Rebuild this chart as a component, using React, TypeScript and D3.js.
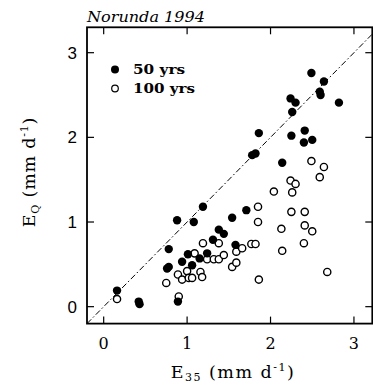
import React from "react";
import * as d3 from "d3";

const title = "Norunda 1994";
const xTicks = [0, 1, 2, 3];
const yTicks = [0, 1, 2, 3];
const legendLabels = ["50 yrs", "100 yrs"];

const x50 = [0.16, 0.42, 0.43, 0.89, 0.76, 0.78, 0.78, 0.88, 1.08, 1.19, 0.94, 1.01, 1.06, 1.15, 1.24, 1.31, 1.38, 1.44, 1.54, 1.58, 1.71, 1.78, 1.82, 1.86, 2.14, 2.25, 2.41, 2.40, 2.50, 2.26, 2.24, 2.30, 2.59, 2.60, 2.64, 2.49, 2.82];
const y50 = [0.19, 0.06, 0.03, 0.06, 0.45, 0.47, 0.68, 1.02, 1.00, 1.18, 0.53, 0.62, 0.49, 0.57, 0.63, 0.79, 0.91, 0.86, 1.05, 0.73, 1.14, 1.79, 1.81, 2.05, 1.70, 2.02, 2.08, 1.94, 1.97, 2.30, 2.46, 2.41, 2.54, 2.50, 2.66, 2.76, 2.41];

const x100 = [0.16, 0.90, 0.75, 0.89, 0.94, 1.00, 1.02, 1.06, 1.09, 1.16, 1.18, 1.19, 1.24, 1.32, 1.38, 1.38, 1.44, 1.54, 1.59, 1.59, 1.66, 1.77, 1.82, 1.85, 1.85, 1.86, 2.04, 2.13, 2.14, 2.24, 2.30, 2.26, 2.25, 2.41, 2.41, 2.50, 2.40, 2.49, 2.64, 2.59, 2.68];
const y100 = [0.09, 0.12, 0.28, 0.38, 0.32, 0.42, 0.34, 0.34, 0.63, 0.41, 0.35, 0.75, 0.56, 0.56, 0.75, 0.56, 0.61, 0.47, 0.52, 0.65, 0.69, 0.74, 0.74, 1.18, 1.00, 0.32, 1.36, 0.92, 0.66, 1.49, 1.45, 1.35, 1.12, 1.12, 0.96, 0.89, 0.75, 1.72, 1.65, 1.53, 0.41];

const W = 373;
const H = 385;
const L = 87, R = 372.3, T = 27.3, B = 323.6;

export default function App() {
  const x = d3.scaleLinear().domain([-0.2, 3.22]).range([L, R]);
  const y = d3.scaleLinear().domain([-0.2, 3.3]).range([B, T]);
  const tl = 7;
  const serif = "'DejaVu Serif', 'Liberation Serif', serif";
  const lineEnd = 3.22;
  return (
    <svg width={W} height={H} style={{ position: "absolute", left: 0, top: 0, background: "#fff" }}>
      <defs>
        <clipPath id="plotclip">
          <rect x={L} y={T} width={R - L} height={B - T} />
        </clipPath>
      </defs>
      <text x={L} y={22} fontFamily={serif} fontStyle="italic" fontSize={15} textLength={118} lengthAdjust="spacingAndGlyphs" fill="#000">{title}</text>
      <line x1={x(-0.2)} y1={y(-0.2)} x2={x(lineEnd)} y2={y(lineEnd)} stroke="#000" strokeWidth={1} strokeDasharray="6,2.5,1.5,2.5" clipPath="url(#plotclip)" />
      <g clipPath="url(#plotclip)">
        {x100.map((v, i) => (
          <circle key={"o" + i} cx={x(v)} cy={y(y100[i])} r={3.6} fill="#fff" stroke="#000" strokeWidth={1.4} />
        ))}
        {x50.map((v, i) => (
          <circle key={"f" + i} cx={x(v)} cy={y(y50[i])} r={4.2} fill="#000" />
        ))}
      </g>
      <rect x={L} y={T} width={R - L} height={B - T} fill="none" stroke="#000" strokeWidth={1.8} />
      {xTicks.map((t) => (
        <g key={"xt" + t}>
          <line x1={x(t)} x2={x(t)} y1={B} y2={B - tl} stroke="#000" strokeWidth={1.2} />
          <line x1={x(t)} x2={x(t)} y1={T} y2={T + tl} stroke="#000" strokeWidth={1.2} />
          <text x={x(t)} y={349} textAnchor="middle" fontFamily={serif} fontSize={16} fill="#000">{t}</text>
        </g>
      ))}
      {yTicks.map((t) => (
        <g key={"yt" + t}>
          <line x1={L} x2={L + tl} y1={y(t)} y2={y(t)} stroke="#000" strokeWidth={1.2} />
          <line x1={R} x2={R - tl} y1={y(t)} y2={y(t)} stroke="#000" strokeWidth={1.2} />
          <text x={77} y={y(t) + 6} textAnchor="end" fontFamily="'Liberation Sans', Arial, sans-serif" fontSize={17} fill="#000">{t}</text>
        </g>
      ))}
      <circle cx={115} cy={69.5} r={4} fill="#000" />
      <circle cx={115} cy={88.5} r={3.3} fill="#fff" stroke="#000" strokeWidth={1.2} />
      <text x={133} y={74} fontFamily={serif} fontWeight="bold" fontSize={13.5} textLength={52} lengthAdjust="spacingAndGlyphs" fill="#000">{legendLabels[0]}</text>
      <text x={133} y={93} fontFamily={serif} fontWeight="bold" fontSize={13.5} textLength={62} lengthAdjust="spacingAndGlyphs" fill="#000">{legendLabels[1]}</text>
      <text x={233} y={378} textAnchor="middle" fontFamily={serif} fontSize={17.5} letterSpacing={1.5} fill="#000">
        E<tspan fontSize={11} dy={3}>35</tspan><tspan dy={-3}> (mm d</tspan><tspan fontSize={11} dy={-7}>-1</tspan><tspan dy={7}>)</tspan>
      </text>
      <text transform="translate(35,172) rotate(-90)" textAnchor="middle" fontFamily={serif} fontSize={17.5} letterSpacing={0.8} fill="#000">
        E<tspan fontSize={11} dy={4}>Q</tspan><tspan dy={-4}> (mm d</tspan><tspan fontSize={11} dy={-7}>-1</tspan><tspan dy={7}>)</tspan>
      </text>
    </svg>
  );
}
